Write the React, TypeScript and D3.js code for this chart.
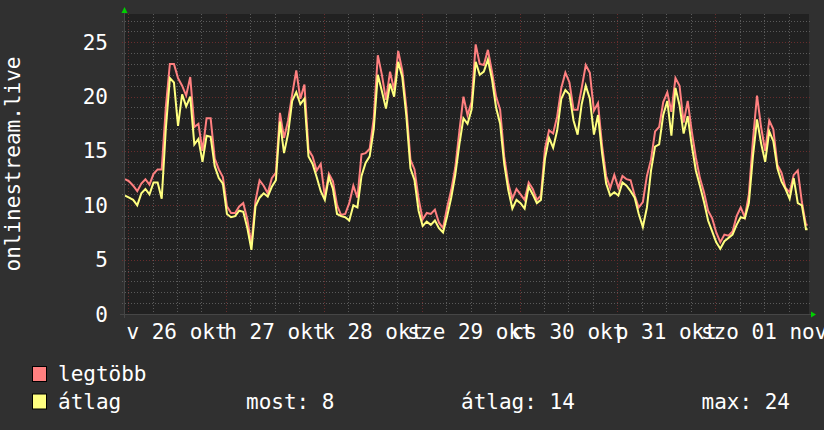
import React from "react";
import * as d3 from "d3";

// hourly samples, first sample at 25 Oct 23:15 (hours relative to 26 Oct 00:00)
const startHour = -0.75;
const maxValues = [
  12.4, 12.2, 11.8, 11.3, 12.0, 12.4, 11.9, 12.9, 13.3, 13.3,
  19.0, 23.0, 23.0, 21.7, 21.0, 20.1, 21.8, 17.2, 17.5, 15.0,
  18.0, 18.0, 14.3, 13.3, 12.6, 9.9, 9.3, 9.3, 9.9, 10.2,
  8.7, 6.4, 10.4, 12.3, 11.8, 11.1, 12.5, 13.0, 18.5, 16.2,
  17.8, 20.2, 22.4, 19.8, 21.1, 15.1, 14.5, 13.2, 13.8, 10.8,
  12.9, 12.2, 10.0, 9.1, 9.2, 10.2, 11.8, 10.7, 14.7, 14.8,
  15.2, 18.0, 23.8, 22.0, 19.7, 22.3, 20.6, 24.2, 22.4, 19.0,
  14.2, 13.3, 10.6, 8.7, 9.3, 9.2, 9.6, 8.4, 7.9, 9.8,
  11.4, 13.5, 16.8, 20.0, 18.3, 19.5, 24.8, 23.0, 22.9, 24.3,
  22.3, 20.0, 18.8, 14.5, 12.0, 10.6, 11.5, 11.0, 10.5, 12.1,
  11.5, 10.5, 10.9, 15.2, 16.9, 16.6, 18.2, 20.8, 22.2, 21.3,
  18.8, 18.8, 20.8, 22.9, 22.2, 18.7, 19.4, 15.5, 12.7, 11.6,
  12.8, 11.6, 12.7, 12.4, 12.3, 10.9, 9.8, 10.3, 12.7, 14.2,
  16.8, 17.2, 19.5, 20.4, 18.6, 21.7, 21.0, 17.6, 19.6, 16.8,
  14.4, 12.5, 11.2, 9.5, 8.8, 7.5, 6.6, 7.3, 7.2, 7.6,
  9.0, 9.8, 8.9, 11.0, 16.0, 20.1, 17.2, 15.0, 17.8, 17.0,
  13.7, 13.0, 11.6, 11.2, 12.8, 13.2, 10.3, 8.2,
];
const avgValues = [
  10.9, 10.7, 10.5, 10.0, 11.1, 11.5, 11.0, 12.1, 12.1, 10.6,
  17.0, 21.7, 21.3, 17.3, 20.2, 19.1, 20.0, 15.6, 16.1, 14.0,
  16.4, 16.3, 13.6, 12.5, 12.0, 9.2, 8.9, 9.0, 9.5, 9.4,
  7.9, 5.9, 9.9, 10.7, 11.1, 10.8, 11.7, 12.3, 17.7, 14.8,
  16.6, 19.6, 20.4, 19.3, 19.8, 14.5, 13.8, 12.6, 11.3, 10.5,
  12.6, 11.5, 9.2, 9.0, 8.9, 8.6, 10.0, 9.8, 12.7, 13.9,
  14.5, 17.0, 22.0, 20.5, 18.9, 21.2, 20.0, 23.2, 21.8, 18.2,
  13.4, 12.3, 9.5, 8.1, 8.5, 8.2, 8.6, 7.9, 7.5, 9.0,
  10.7, 12.8, 15.6, 18.0, 17.5, 18.8, 23.2, 22.0, 22.3, 23.4,
  21.6, 19.0, 17.5, 13.8, 11.4, 9.7, 10.5, 10.2, 9.7, 11.7,
  11.0, 10.2, 10.5, 14.3, 16.2, 15.3, 16.9, 19.8, 20.6, 20.2,
  17.8, 16.5, 19.3, 21.0, 19.8, 16.5, 18.3, 14.8, 12.0, 10.9,
  11.2, 10.9, 12.1, 11.8, 11.3, 10.7, 9.2, 8.0, 9.8, 13.2,
  15.4, 15.6, 18.3, 19.6, 16.4, 20.8, 19.2, 16.6, 18.2, 15.5,
  13.2, 11.8, 10.3, 8.6, 7.6, 6.6, 6.0, 6.7, 7.0, 7.3,
  8.2, 8.9, 8.8, 10.2, 14.5, 17.9, 15.7, 14.0, 16.8, 15.9,
  13.4, 12.2, 11.5, 10.6, 12.5, 10.2, 10.0, 7.8,
];
const dayLabels = ["v 26 okt", "h 27 okt", "k 28 okt", "sze 29 okt", "cs 30 okt", "p 31 okt", "szo 01 nov"];
const yTicks = [0, 5, 10, 15, 20, 25];
const yMinorTicks = d3.range(0, 28, 1);
const legendNames = ["legtöbb", "átlag"];
const legendColors = ["#ff8080", "#ffff80"];
const statTexts = ["most: 8", "átlag: 14", "max: 24"];
const yTitle = "onlinestream.live";

const FONT = "'DejaVu Sans Mono', monospace";

export default function App() {
  const W = 824, H = 430;
  const x0 = 124, x1 = 809, yB = 314, yT = 14;
  const x = d3.scaleLinear().domain([-1, 167]).range([x0, x1]);
  const y = d3.scaleLinear().domain([0, 300 / 10.87]).range([yB, yT]);

  const mkPts = (vals: number[]) => {
    const pts: [number, number][] = vals.map((v, i) => [x(startHour + i), y(v)]);
    const last = vals[vals.length - 1];
    pts.push([x(startHour + vals.length - 0.6), y(last)]);
    return pts;
  };
  const line = d3.line<[number, number]>().x(d => d[0]).y(d => d[1]).curve(d3.curveLinear);

  const minorV = d3.range(0, 168, 6).filter(h => h % 24 !== 0);
  const majorV = d3.range(0, 168, 24);
  const snap = (v: number) => Math.round(v) + 0.5;

  const minorColor = "#5a5a5a";
  const majorColor = "#682d2d";

  return (
    <svg width={W} height={H} style={{ display: "block", position: "absolute", left: 0, top: 0 }}>
      <rect x={0} y={0} width={W} height={H} fill="#303030" />
      <rect x={x0} y={yT} width={x1 - x0} height={yB - yT} fill="#212121" />
      {/* minor horizontal grid */}
      {yMinorTicks.filter(v => v % 5 !== 0).map(v => (
        <line key={"hm" + v} x1={x0 - 2} x2={x1 + 2} y1={snap(y(v))} y2={snap(y(v))}
          stroke={minorColor} strokeDasharray="1,2" />
      ))}
      {/* minor vertical grid */}
      {minorV.map(h => (
        <line key={"vm" + h} x1={snap(x(h))} x2={snap(x(h))} y1={yT} y2={yB + 2}
          stroke={minorColor} strokeDasharray="1,2" />
      ))}
      {/* major grids */}
      {yTicks.filter(v => v > 0).map(v => (
        <line key={"hM" + v} x1={x0 - 2} x2={x1 + 2} y1={snap(y(v))} y2={snap(y(v))}
          stroke={majorColor} strokeDasharray="1,2" />
      ))}
      {majorV.map(h => (
        <line key={"vM" + h} x1={snap(x(h))} x2={snap(x(h))} y1={yT} y2={yB + 2}
          stroke={majorColor} strokeDasharray="1,2" />
      ))}
      {/* data */}
      <path d={line(mkPts(maxValues)) || ""} fill="none" stroke={legendColors[0]} strokeWidth={2} strokeLinejoin="miter" />
      <path d={line(mkPts(avgValues)) || ""} fill="none" stroke={legendColors[1]} strokeWidth={2} strokeLinejoin="miter" />
      {/* axes */}
      <line x1={x0 - 4} x2={x1 + 3} y1={yB + 0.5} y2={yB + 0.5} stroke="#464646" />
      <line x1={x0 + 0.5} x2={x0 + 0.5} y1={yB + 4} y2={yT - 2} stroke="#464646" />
      <polygon points={`${x0 - 2.5},${yT - 1} ${x0 + 3.5},${yT - 1} ${x0 + 0.5},${yT - 7}`} fill="#00d000" />
      <polygon points={`${x1 + 2},${yB - 2.5} ${x1 + 2},${yB + 3.5} ${x1 + 7},${yB + 0.5}`} fill="#00d000" />
      {/* y tick labels */}
      {yTicks.map(v => (
        <text key={"yl" + v} x={108} y={y(v) + 7.5} textAnchor="end" fill="#ffffff"
          fontFamily={FONT} fontSize={21}>{v}</text>
      ))}
      {/* x labels (centered at noon) */}
      {dayLabels.map((lab, i) => (
        <text key={"xl" + i} x={x(12 + 24 * i)} y={338.5} textAnchor="middle" fill="#ffffff"
          fontFamily={FONT} fontSize={21}>{lab}</text>
      ))}
      {/* y title */}
      <text transform={`translate(20,${(yT + yB) / 2}) rotate(-90)`} textAnchor="middle" fill="#ffffff"
        fontFamily={FONT} fontSize={21}>{yTitle}</text>
      {/* legend */}
      {legendNames.map((n, i) => (
        <g key={"lg" + i}>
          <rect x={32.5} y={366.5 + i * 27.5} width={14} height={15} fill={legendColors[i]} stroke="#000" />
          <text x={58} y={381 + i * 27.5} fill="#ffffff" fontFamily={FONT} fontSize={21}>{n}</text>
        </g>
      ))}
      {statTexts.map((s, i) => (
        <text key={"st" + i} x={[246, 461, 701.5][i]} y={408.5} fill="#ffffff" fontFamily={FONT} fontSize={21}>{s}</text>
      ))}
    </svg>
  );
}
